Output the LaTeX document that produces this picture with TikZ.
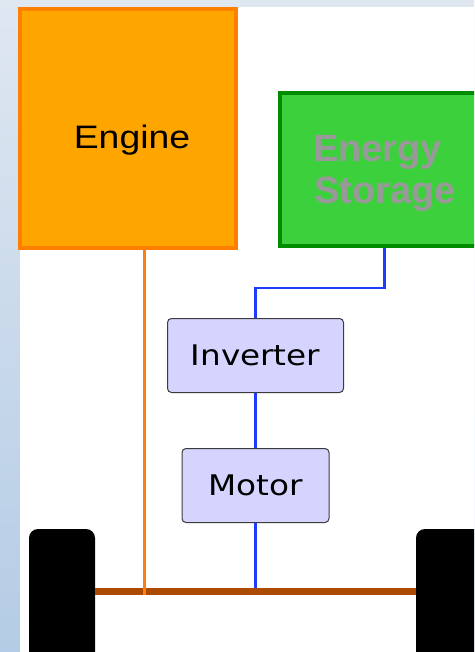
\documentclass[tikz,border=0pt]{standalone}
\usepackage{fontspec}
\setmainfont{Liberation Sans}
\newfontfamily\boxfont{DejaVu Sans}
\usepackage{graphicx}

\definecolor{bgtop}{HTML}{DFE7F1}
\definecolor{bgbot}{HTML}{B4CCE5}
\definecolor{engfill}{HTML}{FFA500}
\definecolor{engdraw}{HTML}{FF7F00}
\definecolor{esfill}{HTML}{3CD03C}
\definecolor{esdraw}{HTML}{008C00}
\definecolor{estext}{HTML}{999999}
\definecolor{busblue}{HTML}{1E3CFF}
\definecolor{boxfill}{HTML}{D4D4FF}
\definecolor{boxdraw}{HTML}{3C3C3C}
\definecolor{axlebrown}{HTML}{AB4A00}
\definecolor{shaftorange}{HTML}{FF7F0E}

\tikzset{
  enginebox/.style={rectangle, fill=engfill, draw=engdraw, line width=4pt,
    minimum width=216pt, minimum height=239pt, inner sep=0pt},
  storagebox/.style={rectangle, fill=esfill, draw=esdraw, line width=4pt,
    minimum width=260pt, minimum height=153pt, inner sep=0pt},
  powerbox/.style={rectangle, rounded corners=4pt, fill=boxfill, draw=boxdraw,
    line width=1pt, minimum height=74pt, inner sep=0pt,
    font=\boxfont\fontsize{28.4}{34}\selectfont},
  wheel/.style={rectangle, rounded corners=9pt, fill=black,
    minimum width=66pt, minimum height=161pt, inner sep=0pt},
  bus/.style={draw=busblue, line width=2.5pt},
  shaft/.style={draw=shaftorange, line width=3pt},
  axle/.style={draw=axlebrown, line width=7pt},
  estitle/.style={anchor=base west, inner sep=0pt, text=estext,
    font=\bfseries\fontsize{38}{44}\selectfont},
}

\begin{document}
\begin{tikzpicture}[x=1pt, y=-1pt]
  \useasboundingbox (0,0) rectangle (474,652);
  \clip (0,0) rectangle (474,652);

  % backdrop: tinted frame with a white drawing area
  \shade[top color=bgtop, bottom color=bgbot] (0,0) rectangle (474,652);
  \fill[white] (20,7.5) rectangle (474,652);

  % components
  \node[enginebox] (engine) at (128,128.5) {};
  \node[anchor=base, inner sep=0pt, font=\fontsize{32.5}{39}\selectfont]
    (enginelabel) at (132,149) {\scalebox{1.15}[1]{Engine}};

  % storage box runs past the right edge of the sheet
  \node[storagebox] (storage) at (410,169.5) {};
  \node[estitle] (eslabel1) at (313,161.7) {Energy};
  \node[estitle] (eslabel2) at (314,204) {Storage};

  \node[powerbox, minimum width=176pt] (inverter) at (255.5,355.5)
    {\scalebox{1.15}[1]{Inverter}};
  \node[powerbox, minimum width=147pt] (motor) at (255.5,485.5)
    {\scalebox{1.15}[1]{Motor}};

  \node[wheel] (wheelL) at (62,609.5) {};
  \node[wheel] (wheelR) at (449,609.5) {};

  \coordinate (tap) at (384.5,0);
  \coordinate (axleY) at (0,591.5);
  \coordinate (shaftfoot) at (144.5,595);

  % electrical path
  \draw[bus] (storage.south -| tap) -- ++(0,40) -| (inverter.north);
  \draw[bus] (inverter.south) -- (motor.north);
  \draw[bus] (motor.south) -- (motor.south |- axleY);

  % mechanical path
  \draw[axle] (wheelL.east |- axleY) -- (wheelR.west |- axleY);
  \draw[shaft] (engine.south -| shaftfoot) -- (shaftfoot);
\end{tikzpicture}
\end{document}
